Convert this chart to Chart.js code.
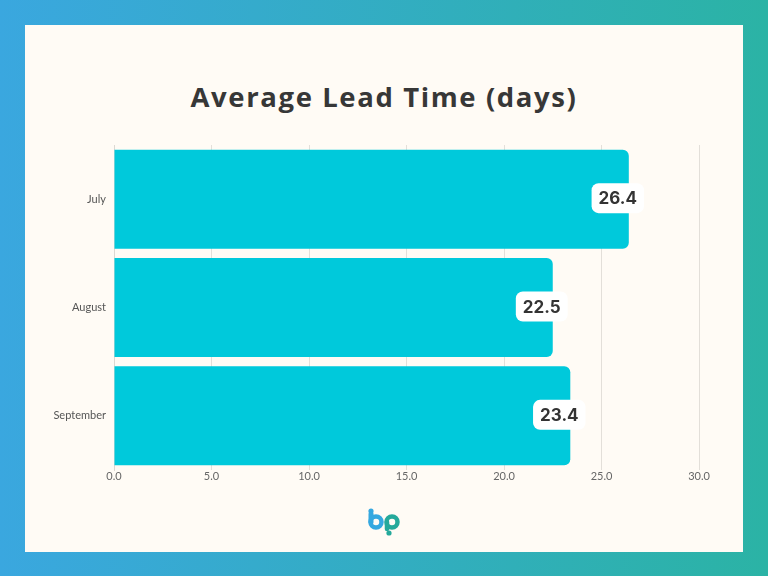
<!DOCTYPE html>
<html lang="en">
<head>
  <meta charset="UTF-8">
  <title>Average Lead Time (days)</title>
  <script src="https://cdn.jsdelivr.net/npm/chart.js"></script>
  <style>
    html, body {
      margin: 0;
      padding: 0;
    }

    body {
      width: 768px;
      height: 576px;
      overflow: hidden;
      background: linear-gradient(90deg, #3aa7df 0%, #2bb3a5 100%);
      position: relative;
    }

    #panel {
      position: absolute;
      left: 25px;
      top: 25px;
      width: 718px;
      height: 527px;
      background-color: #fffbf5;
    }

    #titulo {
      position: absolute;
      left: 0;
      top: 53px;
      width: 718px;
      margin: 0;
      text-align: center;
      font-family: 'Open Sans', sans-serif;
      font-weight: 700;
      font-size: 27.5px;
      letter-spacing: 1.6px;
      color: #373737;
    }

    #grafico {
      position: absolute;
      left: 0;
      top: 0;
    }

    #logo {
      position: absolute;
      left: 342px;
      top: 483px;
    }
  </style>
</head>
<body>

  <div id="panel">
    <h1 id="titulo">Average Lead Time (days)</h1>
    <canvas id="grafico" width="718" height="527"></canvas>
    <svg id="logo" width="36" height="28" viewBox="0 0 36 28">
      <circle cx="4" cy="3" r="2.6" fill="#35a8e0"/>
      <path d="M4 6 L4 14" stroke="#35a8e0" stroke-width="5" stroke-linecap="round"/>
      <circle cx="9" cy="14" r="5.5" fill="none" stroke="#35a8e0" stroke-width="4.5"/>
      <circle cx="25" cy="14" r="5.5" fill="none" stroke="#25a99b" stroke-width="4.5"/>
      <path d="M20 14 L20 21" stroke="#25a99b" stroke-width="4.5" stroke-linecap="round"/>
      <circle cx="22" cy="25" r="2.6" fill="#25a99b"/>
    </svg>
  </div>

  <script>
    const meses = ['July', 'August', 'September'];
    const leadTime = [26.4, 22.5, 23.4];
    const ticksX = [0, 5, 10, 15, 20, 25, 30];

    // caixinhas brancas com o valor na ponta de cada barra
    const rotulos = {
      id: 'rotulos',
      afterDatasetsDraw(chart) {
        const ctx = chart.ctx;
        const meta = chart.getDatasetMeta(0);
        ctx.save();
        ctx.font = '700 17px Inter, sans-serif';
        ctx.textAlign = 'center';
        ctx.textBaseline = 'middle';
        meta.data.forEach((barra, i) => {
          const texto = leadTime[i].toFixed(1);
          const w = ctx.measureText(texto).width + 14;
          const h = 30;
          const cx = barra.x - 11;
          const cy = barra.y - 1;
          ctx.fillStyle = '#ffffff';
          ctx.beginPath();
          ctx.roundRect(cx - w / 2, cy - h / 2, w, h, 7);
          ctx.fill();
          ctx.fillStyle = '#333333';
          ctx.fillText(texto, cx, cy + 1);
        });
        ctx.restore();
      }
    };

    const ctx = document.getElementById('grafico').getContext('2d');
    new Chart(ctx, {
      type: 'bar',
      data: {
        labels: meses,
        datasets: [{
          data: leadTime,
          backgroundColor: '#00c9db',
          borderRadius: 6,
          barPercentage: 0.914,
          categoryPercentage: 1
        }]
      },
      options: {
        indexAxis: 'y',
        responsive: false,
        animation: false,
        layout: {
          padding: { top: 120, right: 44, bottom: 0, left: 0 }
        },
        plugins: {
          legend: { display: false },
          tooltip: { enabled: false }
        },
        scales: {
          x: {
            min: 0,
            max: 30,
            afterBuildTicks(scale) {
              scale.ticks = ticksX.map(v => ({ value: v }));
            },
            afterFit(scale) {
              scale.height = 82;
            },
            grid: {
              color: '#e3dfd9',
              drawTicks: false
            },
            border: { display: false },
            ticks: {
              padding: 0,
              color: '#666666',
              font: { family: 'Lato', size: 11 },
              callback: v => v.toFixed(1)
            }
          },
          y: {
            afterFit(scale) {
              scale.width = 89;
            },
            grid: { display: false },
            border: { display: true, color: '#dcd8d2', width: 1 },
            ticks: {
              padding: 0,
              color: '#555555',
              font: { family: 'Lato', size: 11 }
            }
          }
        }
      },
      plugins: [rotulos]
    });
  </script>

</body>
</html>
